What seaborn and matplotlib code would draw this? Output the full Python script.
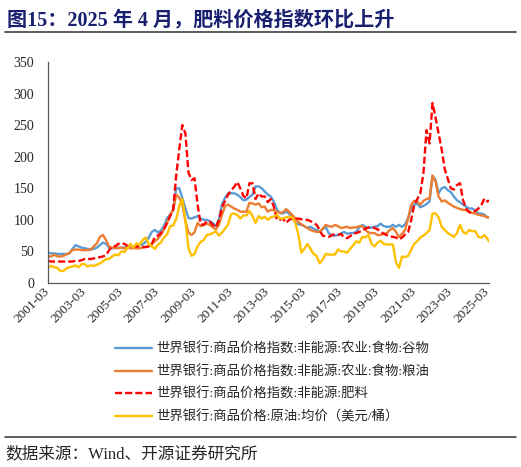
import numpy as np
import pandas as pd
import matplotlib
matplotlib.use("Agg")
import matplotlib.pyplot as plt
import matplotlib.dates as mdates
from matplotlib.lines import Line2D
import seaborn as sns

# legend labels and colours
names = [
    "世界银行:商品价格指数:非能源:农业:食物:谷物",
    "世界银行:商品价格指数:非能源:农业:食物:粮油",
    "世界银行:商品价格指数:非能源:肥料",
    "世界银行:商品价格:原油:均价（美元/桶）",
]
colors = ["#5B9BD5", "#ED7D31", "#FF0000", "#FFC000"]

# readings every two months 2001-03 .. 2025-03, plus 2025-04
dates = list(pd.date_range("2001-03-01", "2025-03-01", freq="2MS")) + [pd.Timestamp("2025-04-01")]

grains = [48, 47, 47, 46, 46,
          46, 46, 47, 54, 60, 58,
          56, 55, 54, 53, 54, 56,
          60, 64, 62, 56, 55, 55,
          56, 56, 56, 57, 56, 57,
          59, 60, 61, 65, 72, 81,
          84, 80, 83, 90, 103, 108,
          116, 150, 150, 135, 118, 103,
          102, 104, 106, 102, 100, 100,
          98, 95, 90, 100, 125, 135,
          142, 142, 142, 140, 136, 131,
          132, 136, 140, 153, 153, 150,
          145, 140, 137, 129, 116, 111,
          110, 113, 110, 103, 96, 93,
          92, 90, 87, 89, 86, 84,
          81, 85, 89, 79, 75, 75,
          76, 78, 81, 78, 79, 79,
          81, 88, 92, 89, 87, 88,
          89, 90, 94, 90, 89, 89,
          92, 89, 92, 89, 93, 103,
          118, 124, 126, 120, 122, 125,
          129, 170, 163, 142, 150, 152,
          147, 144, 137, 131, 128, 124,
          121, 118, 118, 115, 110, 110,
          108, 104, 104]

oils = [42, 42, 45, 42, 42,
        43, 45, 47, 52, 53, 53,
        52, 52, 52, 53, 58, 63,
        73, 76, 68, 58, 56, 56,
        55, 56, 55, 56, 55, 55,
        55, 55, 56, 57, 58, 62,
        66, 70, 76, 85, 95, 108,
        116, 140, 135, 125, 98, 80,
        76, 80, 95, 90, 92, 94,
        92, 88, 85, 92, 108, 122,
        124, 121, 118, 116, 113, 113,
        113, 127, 126, 124, 126, 120,
        121, 113, 116, 115, 113, 111,
        112, 117, 113, 108, 102, 97,
        93, 90, 87, 84, 82, 81,
        81, 86, 92, 90, 89, 92,
        90, 87, 88, 89, 87, 88,
        88, 90, 90, 84, 80, 79,
        79, 76, 76, 78, 79, 84,
        87, 81, 73, 78, 84, 103,
        124, 130, 129, 124, 130, 133,
        134, 170, 160, 137, 129, 131,
        127, 124, 121, 119, 117, 116,
        115, 113, 111, 110, 108, 107,
        106, 104, 104]

fert = [35, 34, 34, 34, 34,
        34, 34, 34, 34, 35, 35,
        36, 38, 38, 38, 39, 40,
        41, 42, 44, 52, 58, 58,
        62, 63, 62, 59, 58, 57,
        58, 58, 57, 57, 58, 62,
        73, 75, 79, 86, 95, 106,
        116, 170, 212, 250, 237, 175,
        163, 166, 125, 93, 92, 98,
        97, 92, 88, 100, 120, 130,
        140, 147, 152, 160, 150, 138,
        134, 158, 158, 133, 142, 137,
        137, 128, 133, 121, 100, 100,
        102, 95, 100, 102, 102, 102,
        101, 100, 100, 98, 95, 92,
        84, 75, 74, 73, 76, 77,
        76, 78, 72, 71, 74, 79,
        79, 81, 83, 86, 88, 89,
        87, 85, 81, 78, 76, 74,
        73, 72, 69, 72, 77, 81,
        100, 124, 133, 142, 174, 242,
        221, 285, 262, 237, 211, 180,
        165, 150, 148, 155, 158, 131,
        118, 112, 111, 114, 118, 124,
        134, 129, 131]

crude = [25, 27, 25, 24, 19,
         19, 23, 25, 26, 28, 25,
         30, 30, 26, 28, 27, 29,
         31, 34, 38, 38, 42, 45,
         44, 50, 49, 55, 62, 56,
         63, 60, 68, 72, 62, 58,
         54, 61, 64, 72, 77, 90,
         91, 101, 122, 133, 99, 55,
         43, 46, 58, 65, 68, 76,
         77, 79, 82, 75, 80, 86,
         93, 109, 110, 108, 102, 107,
         107, 114, 106, 95, 106, 102,
         105, 100, 104, 105, 108, 102,
         102, 104, 105, 104, 96, 77,
         48, 54, 62, 54, 46, 43,
         31, 37, 46, 45, 45, 45,
         53, 50, 50, 48, 54, 60,
         66, 64, 73, 72, 76, 62,
         58, 64, 67, 62, 61, 61,
         61, 33, 24, 42, 41, 43,
         53, 62, 66, 72, 75, 79,
         84, 110, 110, 104, 89, 84,
         79, 76, 73, 79, 92, 81,
         78, 84, 82, 82, 73, 72,
         76, 70, 66]

df = pd.DataFrame({
    "date": dates * 4,
    "value": grains + oils + fert + crude,
    "series": np.repeat(names, len(dates)),
})

sns.set_style("white")
plt.rcParams["font.family"] = ["Liberation Serif", "Noto Sans CJK SC"]

fig = plt.figure(figsize=(5.21, 4.67), dpi=100)
ax = fig.add_axes([48 / 521, 1 - 283 / 467, 441 / 521, 221 / 467])

sns.lineplot(data=df, x="date", y="value", hue="series", style="series",
             palette=colors, dashes=["", "", (3, 1.3), ""], linewidth=1.7, ax=ax)

ax.set_ylim(0, 350)
ax.set_yticks(range(0, 351, 50))
ax.set_xlim(pd.Timestamp("2001-03-01"), pd.Timestamp("2025-04-01"))
ax.set_xticks(pd.date_range("2001-03-01", "2025-03-01", freq="24MS"))
ax.xaxis.set_major_formatter(mdates.DateFormatter("%Y-%m"))
ax.set_xlabel("")
ax.set_ylabel("")
for s in ["top", "right"]:
    ax.spines[s].set_visible(False)
for s in ["left", "bottom"]:
    ax.spines[s].set_color("#595959")
    ax.spines[s].set_linewidth(0.9)
ax.tick_params(axis="both", direction="in", length=3.5, width=0.8, color="#595959")
ax.tick_params(axis="y", labelsize=10, pad=10)
ax.tick_params(axis="x", labelsize=9.5, pad=5)
for lab in ax.get_xticklabels():
    lab.set_rotation(45)
    lab.set_ha("right")
    lab.set_va("center")
    lab.set_rotation_mode("anchor")

handles, labels = ax.get_legend_handles_labels()
ax.get_legend().remove()
fig.legend(handles, labels, loc="upper left", bbox_to_anchor=(115 / 521, 1 - 342.5 / 467),
           frameon=False, fontsize=9.6, handlelength=2.8, handletextpad=0.3,
           labelspacing=0.70, borderpad=0, borderaxespad=0)

# title, rules and source
fig.text(7 / 521, 1 - 20 / 467, "图15：2025 年 4 月，肥料价格指数环比上升",
         fontsize=14.5, fontweight="bold", color="#1A2070", va="center")
fig.add_artist(Line2D([5 / 521, 516 / 521], [1 - 31.5 / 467] * 2, color="#404040", lw=1.2))
fig.add_artist(Line2D([5 / 521, 516 / 521], [1 - 437 / 467] * 2, color="#404040", lw=1.2))
fig.text(5 / 521, 1 - 454 / 467, "数据来源：Wind、开源证券研究所", fontsize=12, va="center")

fig.savefig("out.png", dpi=100)
